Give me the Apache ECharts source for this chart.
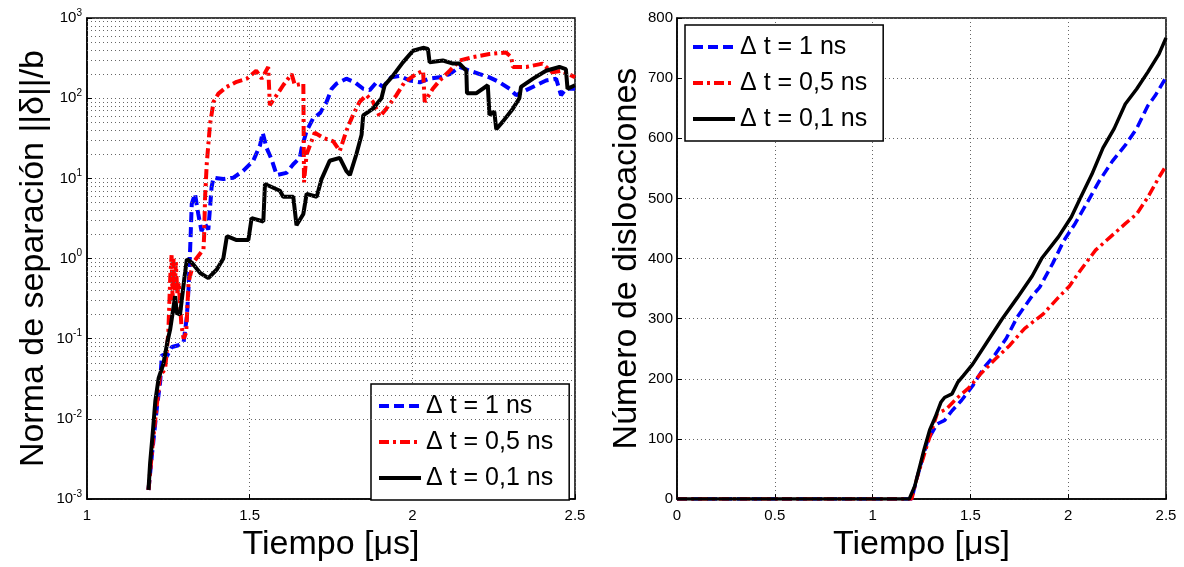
<!DOCTYPE html>
<html>
<head>
<meta charset="utf-8">
<script src="https://cdn.jsdelivr.net/npm/echarts@6/dist/echarts.min.js"></script>
<style>
  html, body { margin: 0; padding: 0; background: #fff; }
  #chart { width: 1184px; height: 567px; }
</style>
</head>
<body>
<div id="chart"></div>
<script>
// legend names
const names = ['\u0394 t = 1 ns', '\u0394 t = 0,5 ns', '\u0394 t = 0,1 ns']

// left panel: separation norm (log scale) vs time [us]
const sepT1 = [1.189,1.2,1.215,1.225,1.23,1.245,1.261,1.281,1.297,1.307,1.312,1.317,1.322,1.332,1.342,1.352,1.363,1.373,1.383,1.389,1.419,1.45,1.48,1.511,1.532,1.54,1.552,1.567,1.583,1.613,1.634,1.654,1.66,1.675,1.695,1.716,1.736,1.752,1.767,1.797,1.823,1.849,1.869,1.89,1.91,1.935,1.961,1.992,2.023,2.053,2.084,2.115,2.145,2.176,2.207,2.237,2.268,2.299,2.319,2.35,2.381,2.411,2.442,2.457,2.472,2.5]
const sepV1 = [0.0013,0.0037,0.014,0.029,0.063,0.06,0.079,0.083,0.091,0.19,0.42,1.3,4.8,6.4,3.6,2.2,2.7,2.3,7.8,10.2,9.8,10.2,12.4,16.6,26,37,24,17.4,11,11.7,15,18,24,39,56,65,89,131,152,175,158,131,126,158,138,182,190,166,158,175,182,200,245,220,200,182,158,131,109,126,145,166,175,109,131,131]

const sepT05 = [1.189,1.204,1.225,1.24,1.25,1.256,1.26,1.263,1.266,1.27,1.273,1.278,1.282,1.29,1.297,1.305,1.312,1.327,1.358,1.36,1.363,1.368,1.378,1.389,1.404,1.429,1.46,1.491,1.52,1.537,1.557,1.562,1.583,1.603,1.629,1.639,1.665,1.667,1.675,1.7,1.726,1.757,1.777,1.797,1.818,1.838,1.859,1.879,1.9,1.92,1.951,1.976,2.012,2.033,2.038,2.063,2.084,2.115,2.145,2.186,2.237,2.288,2.304,2.309,2.35,2.4,2.43,2.46,2.5]
const sepV05 = [0.0013,0.006,0.036,0.041,0.12,0.6,1.1,0.3,1.0,0.4,0.9,0.35,0.5,0.15,0.1,0.12,0.5,0.9,1.3,1.9,5.9,15,47,90,114,138,160,175,220,175,245,82,109,145,200,145,152,8.9,20,37,32,29,22,39,62,90,109,90,59,74,109,158,200,220,90,131,166,220,295,325,355,372,325,245,245,270,210,220,182]

const sepT01 = [1.189,1.194,1.202,1.21,1.22,1.235,1.247,1.256,1.271,1.276,1.286,1.3,1.307,1.322,1.348,1.373,1.399,1.419,1.43,1.46,1.496,1.506,1.542,1.547,1.593,1.603,1.634,1.644,1.665,1.675,1.706,1.721,1.746,1.777,1.797,1.808,1.828,1.844,1.849,1.879,1.905,1.915,1.94,1.971,2.002,2.033,2.048,2.053,2.094,2.125,2.145,2.166,2.168,2.196,2.232,2.237,2.252,2.258,2.278,2.309,2.329,2.334,2.37,2.411,2.452,2.472,2.477,2.5]
const sepV01 = [0.0013,0.0028,0.0066,0.0167,0.032,0.049,0.091,0.133,0.34,0.21,0.2,0.6,0.98,0.89,0.66,0.57,0.73,1.0,1.9,1.7,1.7,3.2,2.9,8.5,7,5.9,5.9,2.6,3.6,6.4,5.9,9.8,16.6,18,12.4,11,20,35,61,74,100,145,190,280,390,425,410,280,295,270,270,220,115,115,145,62,68,41,51,74,100,138,174,220,245,230,131,145]

// right panel: number of dislocations vs time [us]
const disT1 = [0,1.2,1.225,1.282,1.33,1.368,1.406,1.454,1.511,1.568,1.625,1.683,1.74,1.816,1.854,1.921,1.978,2.035,2.102,2.159,2.226,2.293,2.35,2.407,2.445,2.5]
const disN1 = [0,0,33,98,125,131,147,164,188,218,240,267,303,338,352,392,430,458,496,529,562,589,616,654,671,701]

const disT05 = [0,1.2,1.225,1.282,1.33,1.378,1.435,1.492,1.549,1.625,1.702,1.778,1.873,1.949,2.006,2.064,2.14,2.216,2.292,2.35,2.407,2.464,2.5]
const disN05 = [0,0,33,93,142,150,169,185,207,232,256,284,308,335,354,381,414,436,458,474,502,535,554]

const disT01 = [0,1.187,1.216,1.263,1.292,1.32,1.349,1.368,1.406,1.435,1.463,1.511,1.587,1.663,1.74,1.816,1.864,1.95,2.016,2.064,2.121,2.178,2.235,2.292,2.35,2.407,2.464,2.5]
const disN01 = [0,0,22,82,115,136,161,169,175,194,205,224,262,300,335,371,400,436,469,502,540,584,616,657,682,710,740,767]

const zip = (a, b) => a.map((v, i) => [v, b[i]])

// minor decades for the log grid
const minorLog = []
for (let k = -3; k < 3; k++) {
  for (let m = 2; m <= 9; m++) minorLog.push(m * Math.pow(10, k))
}

const FONT = 'Liberation Sans'
const styles = [
  { color: '#0000ff', type: [10, 5] },
  { color: '#ff0000', type: [10, 4, 3, 4] },
  { color: '#000000', type: 'solid' },
]

const gridLine = { show: true, lineStyle: { color: '#666', type: [1, 3], width: 1 } }
const tick = { show: true, inside: true, length: 5, lineStyle: { color: '#000' } }
const axisLine = { show: true, lineStyle: { color: '#000', width: 1.5 } }

function makeSeries(data, idx, axis, width) {
  return {
    name: names[idx],
    type: 'line',
    xAxisIndex: axis,
    yAxisIndex: axis,
    data: data,
    symbol: 'none',
    animation: false,
    lineStyle: { color: styles[idx].color, type: styles[idx].type, width: width },
    itemStyle: { color: styles[idx].color },
  }
}

function legendAt(left, top) {
  return {
    data: names,
    orient: 'vertical',
    left: left,
    top: top,
    padding: [7, 16, 7, 6],
    itemGap: 6,
    itemWidth: 42,
    itemHeight: 14,
    backgroundColor: '#fff',
    borderColor: '#000',
    borderWidth: 1.5,
    borderRadius: 0,
    selectedMode: false,
    itemStyle: { opacity: 0 },
    lineStyle: { width: 4 },
    textStyle: { fontFamily: FONT, fontSize: 25, color: '#000', lineHeight: 30 },
  }
}

const chart = echarts.init(document.getElementById('chart'))

chart.setOption({
  animation: false,
  backgroundColor: '#fff',
  textStyle: { fontFamily: FONT },
  grid: [
    { left: 87, top: 18, width: 488, height: 488, show: true, borderColor: '#000', borderWidth: 1.5 },
    { left: 677, top: 18, width: 489, height: 488, show: true, borderColor: '#000', borderWidth: 1.5 },
  ],
  legend: [legendAt(371, 384), legendAt(685, 25)],
  xAxis: [
    {
      gridIndex: 0, type: 'value', min: 1, max: 2.5, interval: 0.5,
      name: 'Tiempo [\u03bcs]', nameLocation: 'middle', nameGap: 24,
      nameTextStyle: { fontSize: 34, color: '#000', fontFamily: FONT },
      axisLine: axisLine, axisTick: tick, splitLine: gridLine,
      axisLabel: { fontSize: 15, color: '#000', margin: 9, formatter: v => String(v) },
    },
    {
      gridIndex: 1, type: 'value', min: 0, max: 2.5, interval: 0.5,
      name: 'Tiempo [\u03bcs]', nameLocation: 'middle', nameGap: 24,
      nameTextStyle: { fontSize: 34, color: '#000', fontFamily: FONT },
      axisLine: axisLine, axisTick: tick, splitLine: gridLine,
      axisLabel: { fontSize: 15, color: '#000', margin: 9, formatter: v => String(v) },
    },
  ],
  yAxis: [
    {
      gridIndex: 0, type: 'log', logBase: 10, min: 0.001, max: 1000,
      name: 'Norma de separaci\u00f3n ||\u03b4||/b', nameLocation: 'middle', nameGap: 36,
      nameTextStyle: { fontSize: 34, color: '#000', fontFamily: FONT },
      axisLine: axisLine, axisTick: tick, splitLine: gridLine,
      axisLabel: {
        color: '#000', margin: 5,
        formatter: v => '{b|10}{e|' + Math.round(Math.log10(v)) + '}',
        rich: {
          b: { fontSize: 15, fontFamily: FONT, color: '#000' },
          e: { fontSize: 10, fontFamily: FONT, color: '#000', verticalAlign: 'top', padding: [0, 0, 10, 0] },
        },
      },
    },
    {
      gridIndex: 1, type: 'value', min: 0, max: 800, interval: 100,
      name: 'N\u00famero de dislocaciones', nameLocation: 'middle', nameGap: 33,
      nameTextStyle: { fontSize: 34, color: '#000', fontFamily: FONT },
      axisLine: axisLine, axisTick: tick, splitLine: gridLine,
      axisLabel: { fontSize: 15, color: '#000', margin: 4 },
    },
  ],
  series: [
    {
      type: 'line', xAxisIndex: 0, yAxisIndex: 0, data: [], symbol: 'none', silent: true,
      markLine: {
        silent: true, symbol: 'none', label: { show: false }, animation: false,
        lineStyle: { color: '#666', type: [1, 3], width: 1 },
        data: minorLog.map(v => ({ yAxis: v })),
      },
    },
    makeSeries(zip(sepT1, sepV1), 0, 0, 4),
    makeSeries(zip(sepT05, sepV05), 1, 0, 4),
    makeSeries(zip(sepT01, sepV01), 2, 0, 4),
    makeSeries(zip(disT1, disN1), 0, 1, 3.5),
    makeSeries(zip(disT05, disN05), 1, 1, 3.5),
    makeSeries(zip(disT01, disN01), 2, 1, 3.5),
  ],
})
</script>
</body>
</html>
